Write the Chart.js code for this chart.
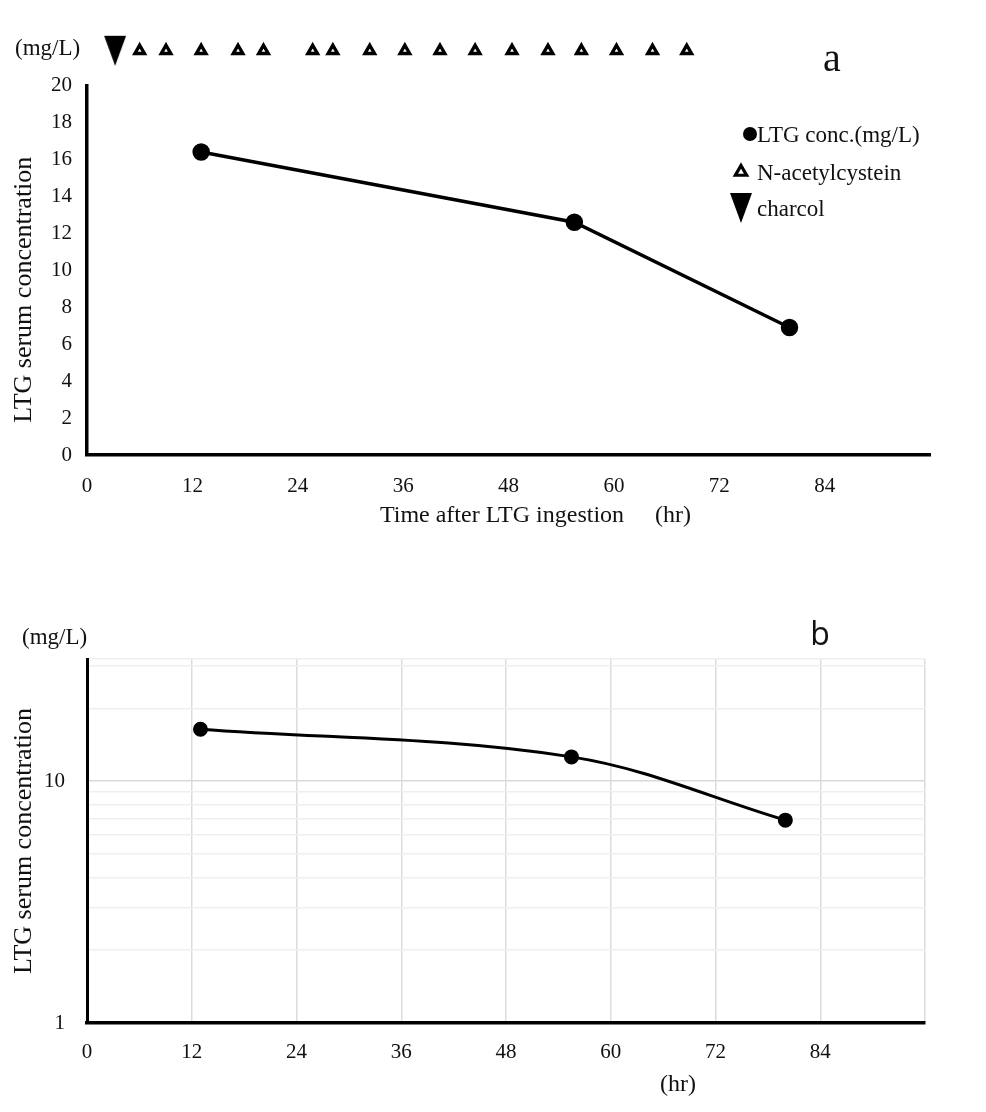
<!DOCTYPE html>
<html>
<head>
<meta charset="utf-8">
<title>LTG serum concentration</title>
<script src="https://cdn.jsdelivr.net/npm/chart.js@4.4.1/dist/chart.umd.min.js"></script>
<style>
  body { margin: 0; background: #fff; }
  canvas { display: block; }
</style>
</head>
<body>
<canvas id="chartA" width="986" height="560"></canvas>
<canvas id="chartB" width="986" height="552"></canvas>
<script>
// data
var ltgHours = [13, 55.5, 80];
var ltgConc = [16.4, 12.6, 6.9];
var nacHours = [6, 9, 13, 17.2, 20.1, 25.7, 28, 32.2, 36.2, 40.2, 44.2, 48.4, 52.5, 56.3, 60.3, 64.4, 68.3];
var charcoalHours = [3.2];
var markerLevel = 0.6;           // height inside the marker strip above panel a

var hourTicks = [0, 12, 24, 36, 48, 60, 72, 84];
var hourMax = 96;
var linearMax = 20;
var linearStep = 2;
var logMin = 1;
var logMax = 32;
var logGridValues = [1, 2, 3, 4, 5, 6, 7, 8, 9, 10, 20, 30, 32];
var logLabelValues = [1, 10];

var SERIF = "'Liberation Serif', 'Times New Roman', serif";
Chart.defaults.font.family = SERIF;
Chart.defaults.color = '#111';

// tall downward triangle for charcoal
var charcoalMark = document.createElement('canvas');
charcoalMark.width = 24;
charcoalMark.height = 32;
(function () {
  var c = charcoalMark.getContext('2d');
  c.fillStyle = '#000';
  c.beginPath();
  c.moveTo(1, 1);
  c.lineTo(23, 1);
  c.lineTo(12, 31);
  c.closePath();
  c.fill();
})();

function toPoints(xs, ys) {
  return xs.map(function (x, i) { return { x: x, y: Array.isArray(ys) ? ys[i] : ys }; });
}

// draws free text (unit labels, panel letters, axis captions) and the legend
var textLayer = {
  id: 'textLayer',
  afterDraw: function (chart, args, opts) {
    var ctx = chart.ctx;
    ctx.save();
    (opts.items || []).forEach(function (t) {
      ctx.font = t.font;
      ctx.fillStyle = '#111';
      ctx.textAlign = t.align || 'left';
      ctx.textBaseline = t.baseline || 'middle';
      ctx.fillText(t.text, t.x, t.y);
    });
    (opts.legend || []).forEach(function (l) {
      var ds = chart.data.datasets[l.ds];
      ctx.fillStyle = ds.pointBackgroundColor || '#000';
      ctx.strokeStyle = ds.pointBorderColor || '#000';
      ctx.lineWidth = l.borderWidth || 0;
      var style = { pointStyle: ds.pointStyle, radius: l.radius, rotation: 0, borderWidth: l.borderWidth || 0 };
      if (Chart.helpers && Chart.helpers.drawPoint) {
        Chart.helpers.drawPoint(ctx, style, l.mx, l.y);
      }
      ctx.font = opts.legendFont;
      ctx.fillStyle = '#111';
      ctx.textAlign = 'left';
      ctx.textBaseline = 'middle';
      ctx.fillText(ds.label, l.tx, l.y + 2);
    });
    ctx.restore();
  }
};

function hourLabel(v) {
  return hourTicks.indexOf(v) >= 0 ? String(v) : '';
}

// ---------- panel a : linear ----------
new Chart(document.getElementById('chartA'), {
  type: 'line',
  data: {
    datasets: [{
      label: 'LTG conc.(mg/L)',
      data: toPoints(ltgHours, ltgConc),
      borderColor: '#000',
      backgroundColor: '#000',
      pointBackgroundColor: '#000',
      pointBorderColor: '#000',
      borderWidth: 3.5,
      pointRadius: 7,
      pointStyle: 'circle',
      tension: 0,
      xAxisID: 'x',
      yAxisID: 'y'
    }, {
      label: 'N-acetylcystein',
      data: toPoints(nacHours, markerLevel),
      showLine: false,
      pointStyle: 'triangle',
      pointRadius: 5.5,
      pointBorderWidth: 3.4,
      pointBackgroundColor: '#fff',
      pointBorderColor: '#000',
      xAxisID: 'x',
      yAxisID: 'yMark'
    }, {
      label: 'charcol',
      data: toPoints(charcoalHours, markerLevel),
      showLine: false,
      pointStyle: charcoalMark,
      pointRadius: 12,
      pointBackgroundColor: '#000',
      pointBorderColor: '#000',
      xAxisID: 'x',
      yAxisID: 'yMark'
    }]
  },
  options: {
    responsive: false,
    animation: false,
    layout: { padding: { top: 15, right: 56, left: 0, bottom: 0 } },
    plugins: {
      legend: { display: false },
      tooltip: { enabled: false },
      textLayer: {
        items: [
          { text: '(mg/L)', x: 15, y: 49, font: '23px ' + SERIF },
          { text: 'a', x: 832, y: 71, font: '40px ' + SERIF, align: 'center', baseline: 'alphabetic' },
          { text: 'Time after LTG ingestion', x: 502, y: 516, font: '24px ' + SERIF, align: 'center' },
          { text: '(hr)', x: 673, y: 516, font: '24px ' + SERIF, align: 'center' }
        ],
        legendFont: '23px ' + SERIF,
        legend: [
          { ds: 0, mx: 750, tx: 757, y: 134, radius: 7 },
          { ds: 1, mx: 741, tx: 757, y: 172, radius: 6.5, borderWidth: 3.2 },
          { ds: 2, mx: 741, tx: 757, y: 208, radius: 12 }
        ]
      }
    },
    scales: {
      x: {
        type: 'linear',
        position: 'bottom',
        min: 0,
        max: hourMax,
        grid: { display: false, drawTicks: false },
        border: { display: true, color: '#000', width: 3.5 },
        ticks: { stepSize: 12, autoSkip: false, maxRotation: 0, padding: 19, font: { size: 21 }, callback: hourLabel },
        afterFit: function (s) { s.height = 105; }
      },
      y: {
        type: 'linear',
        position: 'left',
        stack: 'left',
        stackWeight: 370,
        min: 0,
        max: linearMax,
        grid: { display: false, drawTicks: false },
        border: { display: true, color: '#000', width: 3.5 },
        ticks: { stepSize: linearStep, autoSkip: false, padding: 15, font: { size: 21 } },
        title: { display: true, text: 'LTG serum concentration      ', font: { size: 26 }, padding: { top: 9, bottom: 0 } },
        afterFit: function (s) { s.width = 87; }
      },
      yMark: {
        type: 'linear',
        position: 'left',
        stack: 'left',
        stackWeight: 58,
        min: 0,
        max: 1,
        display: false
      }
    }
  },
  plugins: [textLayer]
});

// ---------- panel b : logarithmic ----------
new Chart(document.getElementById('chartB'), {
  type: 'line',
  data: {
    datasets: [{
      label: 'LTG conc.(mg/L)',
      data: toPoints(ltgHours, ltgConc),
      borderColor: '#000',
      backgroundColor: '#000',
      pointBackgroundColor: '#000',
      pointBorderColor: '#000',
      borderWidth: 3,
      pointRadius: 6,
      tension: 0.35
    }]
  },
  options: {
    responsive: false,
    animation: false,
    layout: { padding: { top: 99, right: 61, left: 0, bottom: 0 } },
    plugins: {
      legend: { display: false },
      tooltip: { enabled: false },
      textLayer: {
        items: [
          { text: '(mg/L)', x: 22, y: 78, font: '23px ' + SERIF },
          { text: 'b', x: 820, y: 85, font: "32px 'Open Sans', 'Noto Sans', sans-serif", align: 'center', baseline: 'alphabetic' },
          { text: '(hr)', x: 678, y: 525, font: '24px ' + SERIF, align: 'center' }
        ]
      }
    },
    scales: {
      x: {
        type: 'linear',
        position: 'bottom',
        min: 0,
        max: hourMax,
        grid: { display: true, drawTicks: false, color: '#dcdcdc', lineWidth: 1.5 },
        border: { display: true, color: '#000', width: 3.5 },
        ticks: { stepSize: 12, autoSkip: false, maxRotation: 0, padding: 17, font: { size: 21 }, callback: hourLabel },
        afterFit: function (s) { s.height = 89; }
      },
      y: {
        type: 'logarithmic',
        position: 'left',
        min: logMin,
        max: logMax,
        grid: {
          display: true,
          drawTicks: false,
          lineWidth: 1.5,
          color: function (c) {
            return c.tick && logLabelValues.indexOf(c.tick.value) >= 0 ? '#d9d9d9' : '#efefef';
          }
        },
        border: { display: true, color: '#000', width: 3 },
        afterBuildTicks: function (s) {
          s.ticks = logGridValues.map(function (v) { return { value: v }; });
        },
        ticks: {
          autoSkip: false,
          padding: 22,
          font: { size: 21 },
          callback: function (v) { return logLabelValues.indexOf(v) >= 0 ? String(v) : ''; }
        },
        title: { display: true, text: 'LTG serum concentration', font: { size: 26 }, padding: { top: 9, bottom: 0 } },
        afterFit: function (s) { s.width = 87; }
      }
    }
  },
  plugins: [textLayer]
});
</script>
</body>
</html>
